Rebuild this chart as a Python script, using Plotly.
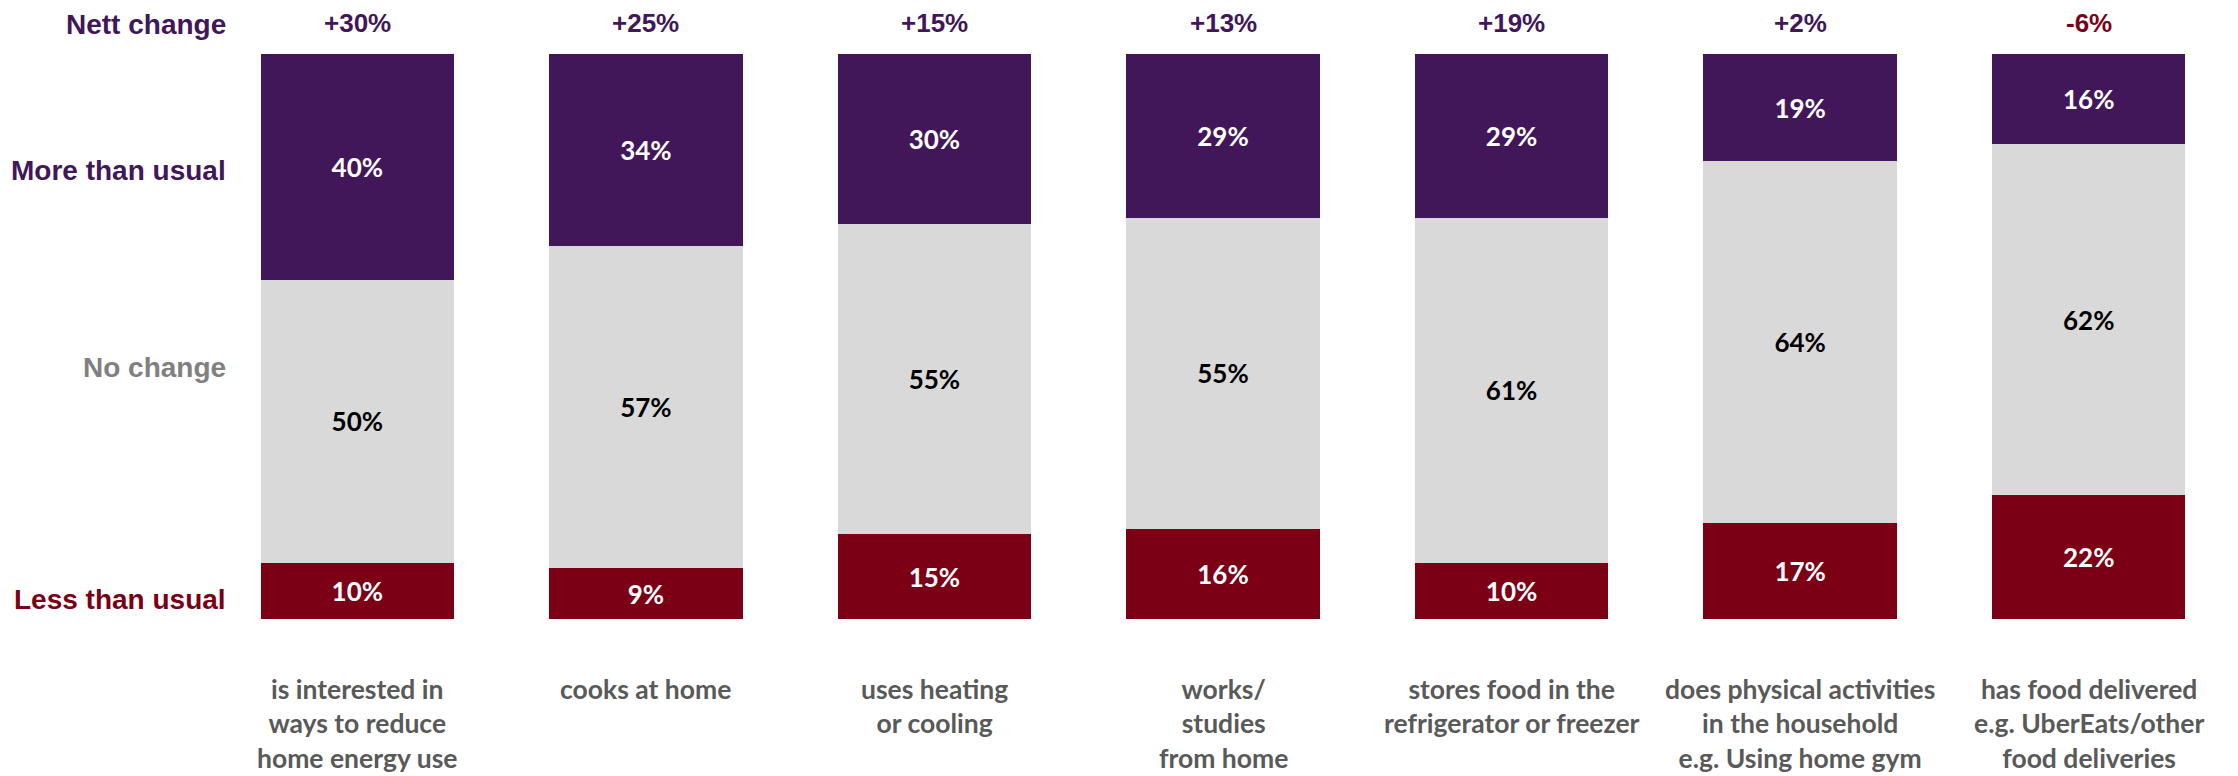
import plotly.graph_objects as go

# Survey items (one stacked column each)
categories = [
    "is interested in<br>ways to reduce<br>home energy use",
    "cooks at home",
    "uses heating<br>or cooling",
    "works/<br>studies<br>from home",
    "stores food in the<br>refrigerator or freezer",
    "does physical activities<br>in the household<br>e.g. Using home gym",
    "has food delivered<br>e.g. UberEats/other<br>food deliveries",
]

# Share of respondents (%)
less_than_usual = [10, 9, 15, 16, 10, 17, 22]
no_change = [50, 57, 55, 55, 61, 64, 62]
more_than_usual = [40, 34, 30, 29, 29, 19, 16]

row_labels = ["Nett change", "More than usual", "No change", "Less than usual"]

PURPLE = "#41175A"
RED = "#7B0016"
GREY = "#D9D9D9"
CAT_GREY = "#595959"
ROW_GREY = "#808080"

VALUE_FONT = "Lato"
HEAD_FONT = "Liberation Sans, Arial"

x = list(range(len(categories)))
bar_width = 0.67

fig = go.Figure()

segments = [
    (less_than_usual, RED, "white"),
    (no_change, GREY, "black"),
    (more_than_usual, PURPLE, "white"),
]
for values, colour, text_colour in segments:
    fig.add_trace(go.Bar(
        x=x,
        y=values,
        width=bar_width,
        marker=dict(color=colour, line=dict(width=0)),
        text=[f"{v}%" for v in values],
        textposition="inside",
        insidetextanchor="middle",
        textangle=0,
        textfont=dict(family=VALUE_FONT, size=26, color=text_colour, weight="bold"),
        hoverinfo="skip",
        showlegend=False,
    ))

annotations = []

# Nett change above each column
for i, (m, l) in enumerate(zip(more_than_usual, less_than_usual)):
    nett = m - l
    annotations.append(dict(
        x=i, y=1.055, xref="x", yref="paper",
        text=f"{nett:+d}%",
        showarrow=False, xanchor="center", yanchor="middle",
        font=dict(family=HEAD_FONT, size=26, color=PURPLE if nett >= 0 else RED, weight="bold"),
    ))

# Category labels under each column
for i, cat in enumerate(categories):
    annotations.append(dict(
        x=i, y=-0.092, xref="x", yref="paper",
        text=cat,
        showarrow=False, xanchor="center", yanchor="top",
        font=dict(family=VALUE_FONT, size=26.5, color=CAT_GREY, weight="bold"),
    ))

# Row labels on the left
row_y = [1.053, 0.793, 0.446, 0.034]
row_colours = [PURPLE, PURPLE, ROW_GREY, RED]
for text, yy, col in zip(row_labels, row_y, row_colours):
    annotations.append(dict(
        x=0.0075, y=yy, xref="paper", yref="paper",
        text=text,
        showarrow=False, xanchor="right", yanchor="middle",
        font=dict(family=HEAD_FONT, size=28, color=col, weight="bold"),
    ))

fig.update_layout(
    width=2238,
    height=776,
    barmode="stack",
    margin=dict(l=213, r=5, t=54, b=157),
    paper_bgcolor="white",
    plot_bgcolor="white",
    annotations=annotations,
    uniformtext=dict(mode=False),
)
fig.update_xaxes(range=[-0.5, len(categories) - 0.5], visible=False)
fig.update_yaxes(range=[0, 100], visible=False)

fig.write_html("out.html")
